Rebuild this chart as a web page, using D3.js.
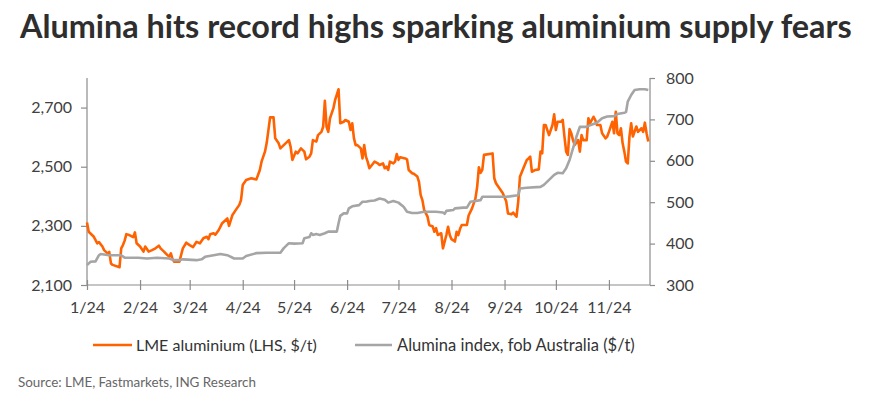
<!DOCTYPE html>
<html><head><meta charset="utf-8">
<script src="https://cdn.jsdelivr.net/npm/d3@7"></script>
<style>body{margin:0;background:#fff}svg{display:block}</style>
</head><body><svg id="c" width="877" height="400"></svg>
<script>
const aluDates = ["01-01","01-02","01-05","01-07","01-08","01-10","01-11","01-13","01-14","01-15","01-16","01-20","01-21","01-22","01-23","01-24","01-26","01-28","01-29","01-30",
"02-01","02-03","02-04","02-06","02-08","02-10","02-12","02-13","02-15","02-17","02-18","02-19","02-20","02-21","02-24","02-26","02-28",
"03-01","03-03","03-05","03-07","03-09","03-11","03-12","03-13","03-15","03-16","03-18","03-20","03-23","03-24","03-26","03-28","03-30","03-31",
"04-01","04-03","04-06","04-09","04-11","04-12","04-14","04-15","04-17","04-19","04-20","04-22","04-23","04-26","04-28","04-29","04-30",
"05-02","05-03","05-05","05-07","05-08","05-10","05-11","05-12","05-14","05-15","05-17","05-18","05-19","05-20","05-21","05-22","05-24","05-25","05-27","05-28","05-30","05-31",
"06-02","06-03","06-04","06-05","06-06","06-07","06-09","06-10","06-11","06-12","06-13","06-14","06-17","06-19","06-20","06-22","06-23","06-24","06-25","06-26","06-28","06-29","06-30",
"07-01","07-02","07-05","07-06","07-07","07-09","07-10","07-12","07-13","07-14","07-15","07-16","07-18","07-19","07-21","07-22","07-23","07-24","07-26","07-27","07-29","07-30","07-31",
"08-01","08-03","08-04","08-05","08-06","08-07","08-10","08-11","08-13","08-15","08-16","08-17","08-18","08-19","08-20","08-25","08-26","08-27","08-29","08-31",
"09-02","09-03","09-05","09-06","09-08","09-09","09-10","09-12","09-14","09-15","09-16","09-17","09-19","09-21","09-22","09-23","09-24","09-25","09-26","09-27","09-29","09-30",
"10-01","10-02","10-04","10-05","10-06","10-07","10-08","10-09","10-10","10-11","10-12","10-14","10-15","10-16","10-17","10-19","10-20","10-21","10-23","10-24","10-25","10-27","10-28","10-30","10-31",
"11-01","11-03","11-04","11-05","11-06","11-07","11-08","11-09","11-10","11-11","11-12","11-13","11-14","11-15","11-17","11-18","11-20","11-21","11-22","11-23","11-24"];
const aluValues = [2311,2280,2263,2241,2245,2230,2218,2207,2212,2173,2168,2160,2224,2235,2250,2272,2268,2262,2278,2241,
2230,2213,2230,2213,2218,2224,2233,2224,2213,2201,2196,2207,2187,2179,2179,2224,2243,
2235,2228,2246,2241,2258,2263,2255,2272,2275,2270,2286,2309,2325,2300,2337,2354,2371,2387,
2438,2455,2461,2457,2489,2517,2551,2580,2667,2667,2596,2579,2562,2579,2590,2567,2523,
2551,2545,2562,2551,2525,2534,2545,2590,2585,2607,2618,2635,2723,2635,2618,2664,2698,2726,2762,2647,2652,2658,
2652,2624,2647,2596,2573,2573,2562,2528,2573,2534,2517,2495,2517,2511,2506,2511,2495,2500,2489,2517,2511,2517,2543,
2523,2532,2528,2525,2489,2478,2476,2467,2449,2404,2387,2354,2331,2303,2298,2280,2292,2269,2275,2224,2269,2297,2269,
2255,2247,2280,2269,2290,2303,2303,2335,2359,2393,2432,2498,2479,2489,2540,2545,2461,2444,2427,2410,
2382,2342,2339,2345,2331,2382,2466,2495,2523,2528,2534,2483,2489,2491,2551,2545,2641,2641,2624,2607,2641,2677,
2624,2652,2652,2658,2602,2551,2540,2627,2613,2590,2573,2590,2551,2607,2590,2590,2664,2647,2669,2658,2641,2641,2613,2596,2602,
2618,2652,2613,2686,2613,2607,2630,2579,2551,2517,2511,2602,2647,2602,2636,2618,2630,2618,2649,2613,2585];

const aluminaDates = ["01-01","01-03","01-06","01-08","01-09","01-14","01-21","01-23","01-31","02-05","02-11","02-18","02-21","02-24","02-26",
"03-05","03-08","03-10","03-15","03-19","03-23","03-27","04-01","04-03","04-09","04-15","04-23","04-25","04-28",
"05-01","05-06","05-07","05-10","05-11","05-12","05-14","05-16","05-19","05-21","05-26","05-27","05-28","05-30",
"06-01","06-02","06-04","06-08","06-10","06-12","06-14","06-17","06-20","06-23","06-25","06-28",
"07-01","07-04","07-06","07-09","07-12","07-16","07-23","07-27","07-28","07-29",
"08-02","08-03","08-08","08-10","08-12","08-15","08-18","08-19","08-25",
"09-02","09-04","09-09","09-10","09-14","09-22","09-24","09-27","09-30",
"10-02","10-05","10-07","10-09","10-11","10-13","10-15","10-19","10-21","10-25","10-28","10-31",
"11-04","11-06","11-10","11-11","11-12","11-14","11-16","11-19","11-22","11-24"];
const aluminaValues = [348,356,357,372,375,372,372,366,366,364,366,364,360,360,362,
360,362,368,372,375,372,364,364,370,377,378,378,389,401,
400,401,413,416,425,421,423,421,425,429,429,449,467,473,
473,485,490,493,501,501,503,504,509,506,499,503,
499,489,477,474,474,477,477,475,472,479,
481,485,487,487,501,503,505,513,513,
513,514,517,533,535,537,542,554,566,
571,570,582,602,630,658,682,682,686,692,703,707,
708,713,716,718,743,759,771,773,773,771];

const leftTicks = [2100, 2300, 2500, 2700];
const rightTicks = [300, 400, 500, 600, 700, 800];
const monthTicks = ["01-01","02-01","03-01","04-01","05-01","06-01","07-01","08-01","09-01","10-01","11-01"];
const monthLabels = ["1/24","2/24","3/24","4/24","5/24","6/24","7/24","8/24","9/24","10/24","11/24"];
const titleText = "Alumina hits record highs sparking aluminium supply fears";
const legendNames = ["LME aluminium (LHS, $/t)", "Alumina index, fob Australia ($/t)"];
const sourceText = "Source: LME, Fastmarkets, ING Research";

const parse = s => d3.timeParse("%Y-%m-%d")("2024-" + s);
const ORANGE = "#FF6200", GREY = "#A5A5A5", AXIS = "#8C8C8C", TXT = "#404040";
const FONT = "Lato, 'Open Sans', sans-serif";

const svg = d3.select("#c");
const L = 87, R = 650, T = 78, B = 285;

const x = d3.scaleTime().domain([parse("01-01"), parse("11-25")]).range([L, R]);
const yL = d3.scaleLinear().domain([2100, 2800]).range([B, T]);
const yR = d3.scaleLinear().domain([300, 800]).range([B, T]);

function fit(sel, target) {
  const n = sel.node();
  const fs = parseFloat(sel.attr("font-size"));
  const w = n.getComputedTextLength();
  sel.attr("font-size", (fs * target / w).toFixed(2));
}

// Title
svg.append("text").attr("x", 20).attr("y", 37.5).attr("font-family", FONT)
  .attr("font-weight", 700).attr("font-size", 30).attr("fill", "#2E2E2E")
  .text(titleText).call(fit, 832);

// Left axis
const gL = svg.append("g").attr("transform", `translate(${L},0)`)
  .call(d3.axisLeft(yL).tickValues(leftTicks).tickFormat(d3.format(",")).tickSize(6).tickPadding(9));
// Right axis
const gR = svg.append("g").attr("transform", `translate(${R},0)`)
  .call(d3.axisRight(yR).tickValues(rightTicks).tickSize(5).tickPadding(11));
// Bottom axis
const gB = svg.append("g").attr("transform", `translate(0,${B})`)
  .call(d3.axisBottom(x).tickValues(monthTicks.map(parse))
    .tickFormat((d, i) => monthLabels[i]).tickSize(5).tickPadding(12));
gB.selectAll(".tick line").attr("y1", -5);

[gL, gR, gB].forEach(g => {
  g.select(".domain").attr("stroke", AXIS).attr("stroke-width", 1.2);
  g.selectAll(".tick line").attr("stroke", AXIS).attr("stroke-width", 1.2);
  g.selectAll(".tick text").attr("fill", TXT).attr("font-family", FONT).attr("font-size", 16);
});
gB.select(".domain").attr("d", `M${L},0H${R}`);
gL.select(".domain").attr("d", `M0,${B}V${T}`);
gR.select(".domain").attr("d", `M0,${B}V${T}`);

// Lines
const aluData = aluDates.map((d, i) => ({ d: parse(d), v: aluValues[i] }));
const aluminaData = aluminaDates.map((d, i) => ({ d: parse(d), v: aluminaValues[i] }));

svg.append("path").datum(aluData)
  .attr("fill", "none").attr("stroke", ORANGE).attr("stroke-width", 2.6).attr("stroke-linejoin", "round")
  .attr("d", d3.line().x(p => x(p.d)).y(p => yL(p.v)));
svg.append("path").datum(aluminaData)
  .attr("fill", "none").attr("stroke", GREY).attr("stroke-width", 2.6).attr("stroke-linejoin", "round")
  .attr("d", d3.line().x(p => x(p.d)).y(p => yR(p.v)));

// Legend
const legY = 345;
const leg = [
  { x1: 93, x2: 132, tx: 136, w: 181, c: ORANGE, t: legendNames[0] },
  { x1: 355, x2: 392, tx: 397, w: 238, c: GREY, t: legendNames[1] }
];
leg.forEach(l => {
  svg.append("line").attr("x1", l.x1).attr("x2", l.x2).attr("y1", legY).attr("y2", legY)
    .attr("stroke", l.c).attr("stroke-width", 2.6);
  svg.append("text").attr("x", l.tx).attr("y", legY).attr("dy", "0.36em")
    .attr("font-family", FONT).attr("font-size", 17).attr("fill", "#333")
    .text(l.t).call(fit, l.w);
});

// Source
svg.append("text").attr("x", 18).attr("y", 386.5).attr("font-family", FONT)
  .attr("font-size", 14).attr("fill", "#666").text(sourceText).call(fit, 238);
</script>
</body></html>
